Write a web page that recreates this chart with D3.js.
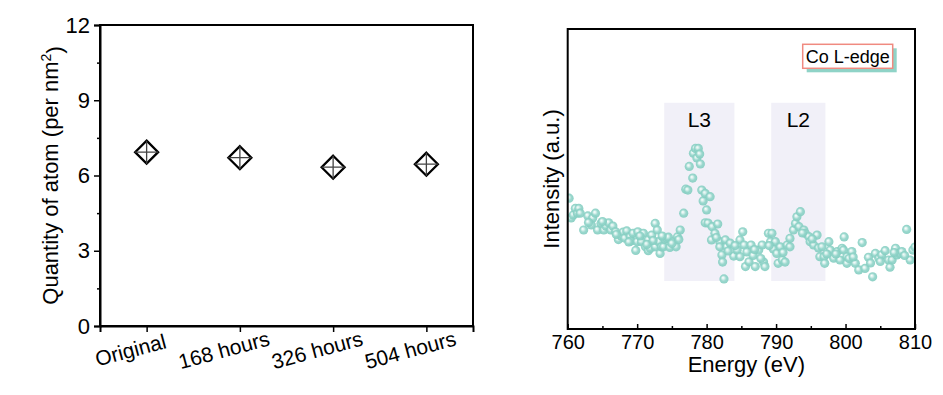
<!DOCTYPE html>
<html><head><meta charset="utf-8">
<script src="https://cdn.jsdelivr.net/npm/d3@7"></script>
<style>body{margin:0;background:#fff} text{font-family:"Liberation Sans",Arial,sans-serif;fill:#000}</style>
</head><body><svg id="c" width="943" height="395"></svg>
<script>
// ---------- Left chart data ----------
const categories = ["Original", "168 hours", "326 hours", "504 hours"];
const quantity = [6.93, 6.71, 6.33, 6.45];
const yTicksLeft = [0, 3, 6, 9, 12];
const yMinorLeft = [1.5, 4.5, 7.5, 10.5];

// ---------- Right chart data (Co L-edge spectrum) ----------
const energy = [
 760.2,760.5,760.8,761.1,761.4,761.6,761.8,762.3,762.9,763.4,763.6,764.0,764.3,764.8,765.2,765.5,765.9,766.2,766.5,766.9,
 767.3,767.7,768.0,768.2,768.5,769.0,769.1,769.4,769.8,770.0,770.1,770.6,770.9,771.2,771.6,771.6,771.9,772.1,772.6,772.6,
 772.9,773.1,773.3,773.5,773.8,774.0,774.3,774.5,774.7,775.2,775.6,775.8,776.2,776.7,777.0,777.3,777.5,778.0,778.1,778.4,
 778.6,778.8,779.0,779.1,779.3,779.5,779.8,779.8,780.0,780.2,780.5,780.7,780.8,781.2,781.6,781.9,781.9,782.2,782.3,782.5,
 782.7,782.9,783.4,783.9,784.4,784.8,784.8,785.2,785.4,785.6,785.8,786.1,786.4,786.7,787.0,787.5,788.0,788.2,788.4,788.9,
 789.2,789.4,789.6,789.9,790.1,790.3,790.6,790.9,791.3,791.6,792.0,792.0,792.5,792.8,793.0,793.3,793.5,794.0,794.2,794.7,
 794.9,795.4,795.9,796.1,796.3,796.6,796.9,797.0,797.6,797.8,798.3,798.8,799.2,799.5,799.7,799.8,800.2,800.2,800.9,801.4,
 801.9,802.4,802.8,803.3,803.9,804.3,804.8,805.2,805.7,806.2,806.4,806.7,807.2,807.4,807.8,808.1,808.8,809.3,809.7,810.0,
 763.0,765.0,767.0,768.8,770.4,771.4,772.3,773.6,775.0,776.0,781.4,783.1,784.1,786.9,787.8,789.0,791.0,793.8,795.2,797.3,
 798.6,800.5,801.1,803.6,805.0,807.0,808.5
];
const intensity = [
 43.6,37.0,38.0,40.2,38.6,40.2,38.6,33.0,37.7,34.7,37.0,38.6,33.0,35.2,33.0,34.3,35.4,33.0,34.3,32.4,
 29.8,31.0,32.3,30.3,32.7,30.8,29.3,31.9,26.2,29.1,32.4,29.1,31.9,27.4,29.7,26.1,26.9,31.3,35.2,27.4,
 33.0,29.1,25.2,27.4,27.4,29.9,30.2,30.6,27.2,29.0,27.4,30.7,33.0,38.6,46.6,46.3,54.2,50.3,58.6,60.2,
 57.0,60.2,58.3,55.0,46.3,42.7,45.2,35.4,39.7,35.3,44.1,29.7,34.1,31.9,35.0,29.1,27.4,24.7,22.3,16.7,
 29.7,27.4,28.6,24.3,26.3,29.7,24.1,32.4,28.0,20.8,25.7,22.4,28.0,24.5,20.8,26.3,28.0,22.3,20.8,31.9,
 29.1,31.9,26.7,29.1,25.2,21.9,27.4,23.0,22.3,28.0,27.4,30.2,33.0,35.2,37.4,34.1,39.1,33.0,31.9,30.8,
 29.1,28.0,31.3,27.0,24.1,27.4,24.1,21.9,29.1,26.3,23.6,25.8,23.0,26.9,26.3,30.7,24.1,21.9,25.8,21.9,
 19.7,28.8,20.2,23.9,17.4,25.2,23.6,24.7,26.1,23.0,20.6,23.0,26.9,24.7,25.2,25.8,33.2,23.0,26.3,27.3,
 35.5,35.8,31.5,29.0,31.0,28.2,29.5,31.0,28.5,29.8,30.5,26.0,27.8,26.5,23.5,27.8,25.5,32.0,30.0,25.0,
 25.0,23.5,24.0,22.0,22.5,25.5,24.5
];
const xTicksRight = [760, 770, 780, 790, 800, 810];
const xMinorRight = [765, 775, 785, 795, 805];
const regionLabels = ["L3", "L2"];
const regionStart = [773.9, 789.3];
const regionEnd = [784.0, 797.1];
const regionLow = 16, regionHigh = 75.4, regionLabelY = 67.5;
const legendText = "Co L-edge";

const svg = d3.select("#c");
const font = '"Liberation Sans", Arial, sans-serif';

// ================= LEFT CHART =================
const L = {x0: 100, x1: 473, y0: 25, y1: 326};
const xL = d3.scalePoint().domain(categories).range([L.x0, L.x1]).padding(0.5);
const yL = d3.scaleLinear().domain([0, 12]).range([L.y1, L.y0]);
const gL = svg.append("g");

gL.append("rect").attr("x", L.x0).attr("y", L.y0).attr("width", L.x1 - L.x0).attr("height", L.y1 - L.y0)
  .attr("fill", "none").attr("stroke", "#000").attr("stroke-width", 2);

const yAxL = gL.append("g").attr("transform", `translate(${L.x0},0)`)
  .call(d3.axisLeft(yL).tickValues(yTicksLeft).tickSize(6).tickPadding(4).tickFormat(d3.format("d")));
yAxL.select(".domain").attr("stroke-width", 2);
yAxL.selectAll(".tick line").attr("stroke-width", 1.5);
yAxL.selectAll("text").style("font-size", "22px").style("font-family", font).attr("fill", "#000");
gL.append("g").attr("transform", `translate(${L.x0},0)`)
  .call(d3.axisLeft(yL).tickValues(yMinorLeft).tickSize(3).tickFormat(""))
  .call(g => g.select(".domain").remove())
  .selectAll("line").attr("stroke-width", 1.5);

const xAxL = gL.append("g").attr("transform", `translate(0,${L.y1})`)
  .call(d3.axisBottom(xL).tickSize(6).tickFormat(""));
xAxL.select(".domain").attr("stroke-width", 2);
xAxL.selectAll(".tick line").attr("stroke-width", 1.5);
gL.append("g").selectAll("text").data(categories).join("text")
  .attr("transform", d => `translate(${xL(d) - 16},${L.y1 + 24}) rotate(-15)`)
  .attr("text-anchor", "middle").attr("dy", "0.35em")
  .style("font-size", "21px").text(d => d);

gL.append("text").attr("transform", `translate(58,${(L.y0 + L.y1) / 2}) rotate(-90)`)
  .attr("text-anchor", "middle").style("font-size", "22px")
  .call(t => {
    t.append("tspan").text("Quantity of atom (per nm");
    t.append("tspan").attr("dy", "-0.5em").style("font-size", "14px").text("2");
    t.append("tspan").attr("dy", "0.5em").text(")");
  });

const hd = 11.5;
const mk = gL.append("g").selectAll("g").data(categories).join("g")
  .attr("transform", (d, i) => `translate(${xL(d)},${yL(quantity[i])})`);
mk.append("path").attr("d", `M0,${-hd}L${hd},0L0,${hd}L${-hd},0Z`)
  .attr("fill", "#fff").attr("stroke", "#000").attr("stroke-width", 2.3).attr("stroke-linejoin", "miter");
mk.append("path").attr("d", `M0,${-hd}V${hd}M${-hd},0H${hd}`)
  .attr("stroke", "#444").attr("stroke-width", 1.3);

// ================= RIGHT CHART =================
const R = {x0: 567.7, x1: 915, y0: 29, y1: 329};
const xR = d3.scaleLinear().domain([760, 810]).range([R.x0, R.x1]);
const yR = d3.scaleLinear().domain([0, 100]).range([R.y1, R.y0]);
const gR = svg.append("g");

const defs = svg.append("defs");
const grad = defs.append("radialGradient").attr("id", "ball").attr("cx", "50%").attr("cy", "50%").attr("r", "55%")
  .attr("fx", "38%").attr("fy", "36%");
grad.append("stop").attr("offset", "0%").attr("stop-color", "#ffffff");
grad.append("stop").attr("offset", "22%").attr("stop-color", "#def3ef");
grad.append("stop").attr("offset", "55%").attr("stop-color", "#93d5ca");
grad.append("stop").attr("offset", "100%").attr("stop-color", "#80cbbe");

const clip = defs.append("clipPath").attr("id", "clipR");
clip.append("rect").attr("x", R.x0).attr("y", R.y0).attr("width", R.x1 - R.x0).attr("height", R.y1 - R.y0);

gR.append("g").selectAll("rect").data(regionLabels).join("rect")
  .attr("x", (d, i) => xR(regionStart[i])).attr("width", (d, i) => xR(regionEnd[i]) - xR(regionStart[i]))
  .attr("y", yR(regionHigh)).attr("height", yR(regionLow) - yR(regionHigh))
  .attr("fill", "#f1f0f8");
gR.append("g").selectAll("text").data(regionLabels).join("text")
  .attr("x", (d, i) => xR((regionStart[i] + regionEnd[i]) / 2)).attr("y", yR(regionLabelY))
  .attr("text-anchor", "middle").style("font-size", "21px").text(d => d);

gR.append("g").attr("clip-path", "url(#clipR)").selectAll("circle").data(energy).join("circle")
  .attr("cx", d => xR(d)).attr("cy", (d, i) => yR(intensity[i])).attr("r", 4.6)
  .attr("fill", "url(#ball)").attr("opacity", 0.92);

gR.append("rect").attr("x", R.x0).attr("y", R.y0).attr("width", R.x1 - R.x0).attr("height", R.y1 - R.y0)
  .attr("fill", "none").attr("stroke", "#000").attr("stroke-width", 2);

const xAxR = gR.append("g").attr("transform", `translate(0,${R.y1})`)
  .call(d3.axisBottom(xR).tickValues(xTicksRight).tickSize(-5).tickPadding(6).tickFormat(d3.format("d")));
xAxR.select(".domain").remove();
xAxR.selectAll(".tick line").attr("stroke-width", 1.5);
xAxR.selectAll("text").style("font-size", "20px").style("font-family", font).attr("fill", "#000");
gR.append("g").attr("transform", `translate(0,${R.y1})`)
  .call(d3.axisBottom(xR).tickValues(xMinorRight).tickSize(-3).tickFormat(""))
  .call(g => g.select(".domain").remove())
  .selectAll("line").attr("stroke-width", 1.5);

gR.append("text").attr("x", (R.x0 + R.x1) / 2 + 5).attr("y", 372).attr("text-anchor", "middle")
  .style("font-size", "22px").text("Energy (eV)");
gR.append("text").attr("transform", `translate(559,179) rotate(-90)`).attr("text-anchor", "middle")
  .style("font-size", "22px").text("Intensity (a.u.)");

const lg = gR.append("g");
lg.append("rect").attr("x", 806.7).attr("y", 48.3).attr("width", 90).attr("height", 24).attr("fill", "#8fd3c7");
lg.append("rect").attr("x", 802.7).attr("y", 44.3).attr("width", 90).attr("height", 24)
  .attr("fill", "#fff").attr("stroke", "#f08a80").attr("stroke-width", 1.5);
lg.append("text").attr("x", 847.7).attr("y", 63).attr("text-anchor", "middle")
  .style("font-size", "18px").text(legendText);
</script></body></html>
